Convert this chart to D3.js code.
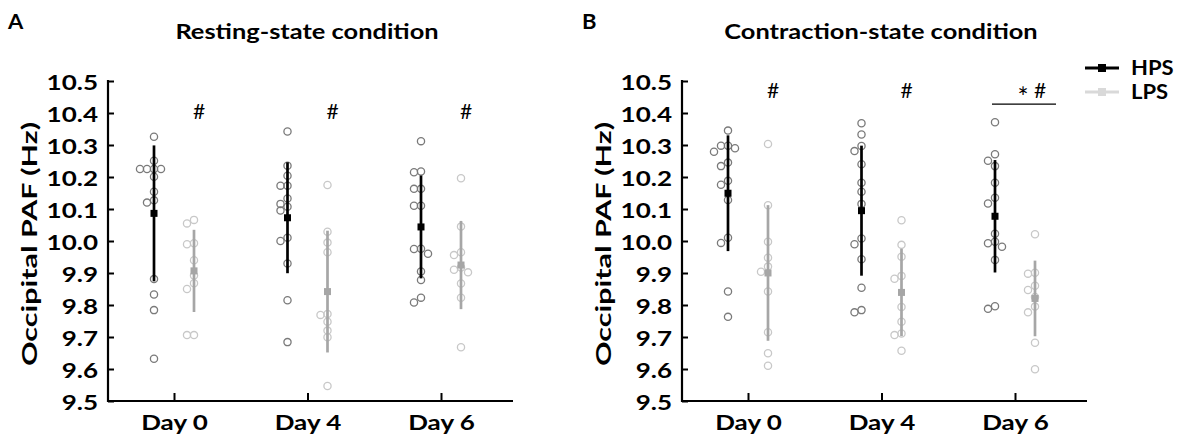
<!DOCTYPE html>
<html>
<head>
<meta charset="utf-8">
<script src="https://cdn.jsdelivr.net/npm/d3@7"></script>
<style>
  body { margin: 0; background: #fff; }
  text { font-family: Lato, "Open Sans", sans-serif; }
</style>
</head>
<body>
<svg id="chart" width="1181" height="441"></svg>
<script>
// data {{{ //

const days = ["Day 0", "Day 4", "Day 6"];
const groups = ["HPS", "LPS"];
const yTicks = [9.5, 9.6, 9.7, 9.8, 9.9, 10.0, 10.1, 10.2, 10.3, 10.4, 10.5];

// resting-state, one list of subjects per day
const restHPS = [
  [10.326, 10.251, 10.225, 10.225, 10.225, 10.225, 10.201, 10.154, 10.120, 10.127, 9.881, 9.833, 9.784, 9.632],
  [10.342, 10.235, 10.204, 10.173, 10.173, 10.133, 10.107, 10.116, 10.095, 10.010, 10.000, 9.930, 9.815, 9.684],
  [10.312, 10.215, 10.217, 10.163, 10.163, 10.110, 10.110, 9.975, 9.976, 9.960, 9.905, 9.878, 9.823, 9.808]
];
const restLPS = [
  [10.055, 10.066, 9.990, 9.993, 9.940, 9.892, 9.868, 9.850, 9.706, 9.706],
  [10.175, 10.029, 9.995, 9.965, 9.772, 9.769, 9.748, 9.720, 9.699, 9.547],
  [10.196, 10.045, 9.956, 9.965, 9.910, 9.902, 9.917, 9.867, 9.823, 9.668]
];

// contraction-state
const contHPS = [
  [10.345, 10.298, 10.298, 10.290, 10.279, 10.245, 10.234, 10.188, 10.176, 10.128, 10.010, 9.994, 9.842, 9.763],
  [10.368, 10.333, 10.297, 10.281, 10.240, 10.182, 10.154, 10.116, 10.008, 9.990, 9.943, 9.854, 9.777, 9.784],
  [10.371, 10.271, 10.251, 10.234, 10.182, 10.135, 10.117, 10.023, 9.998, 9.993, 9.982, 9.941, 9.796, 9.788]
];
const contLPS = [
  [10.303, 10.112, 9.998, 9.948, 9.920, 9.904, 9.842, 9.715, 9.649, 9.610],
  [10.065, 9.988, 9.951, 9.891, 9.882, 9.794, 9.748, 9.711, 9.706, 9.657],
  [10.021, 9.898, 9.901, 9.847, 9.860, 9.825, 9.795, 9.777, 9.682, 9.599]
];

// significance marks per day ("*" = HPS vs LPS, "#" = other effect)
const restMarks = [["#"], ["#"], ["#"]];
const contMarks = [["#"], ["#"], ["*", "#"]];

// }}} data //

const svg = d3.select("#chart");
const colors = { HPS: "#000000", LPS: "#a6a6a6" };
const dotColors = { HPS: "#7a7a7a", LPS: "#c8c8c8" };
const legColors = { HPS: "#000000", LPS: "#d9d9d9" };
const K = 1.3; // the original lettering is set wide

// simple dodge so dots with near values don't sit on top of each other
function dodge(values, cx, y) {
  let placed = [];
  let sorted = values.slice().sort((a, b) => b - a);
  return sorted.map(v => {
    let py = y(v);
    let offsets = [0];
    for (let k = 1; k < 8; k++) offsets.push(-k * 7, k * 7);
    let px = cx;
    for (let o of offsets) {
      let ok = placed.every(p => Math.hypot(p[0] - (cx + o), p[1] - py) >= 6.5);
      if (ok) { px = cx + o; break; }
    }
    placed.push([px, py]);
    return [px, py];
  });
}

// wide text helper
function wideText(parent, x, y, str, size, k, rot) {
  return parent.append("text")
    .attr("transform", "translate(" + x + "," + y + ")" + (rot ? " rotate(" + rot + ")" : "") + " scale(" + k + ",1)")
    .style("font-size", size + "px").style("font-weight", "bold")
    .text(str);
}

function panel(ox, letter, title, hps, lps, marks, markVal, showLegend) {
  let g = svg.append("g").attr("transform", "translate(" + ox + ",0)");
  let top = 81, bottom = 401, axisLen = 405;

  let y = d3.scaleLinear().domain([9.5, 10.5]).range([bottom, top]);
  let x = d3.scalePoint().domain(days).range([66, 333]);
  let off = { HPS: -20, LPS: 20 };

  // axes {{{ //

  g.append("g")
    .call(d3.axisRight(y).tickValues(yTicks).tickFormat(d3.format(".1f")).tickSize(6).tickSizeOuter(0))
    .call(a => a.select(".domain").remove())
    .call(a => a.selectAll(".tick line").attr("stroke", "#000").attr("stroke-width", 2))
    .call(a => a.selectAll(".tick text")
      .attr("x", -10 / K).attr("dy", "0.42em").attr("text-anchor", "end")
      .attr("transform", "scale(" + K + ",1)")
      .style("font-size", "20px").style("font-weight", "bold").attr("fill", "#000"));

  g.append("g")
    .attr("transform", "translate(0," + bottom + ")")
    .call(d3.axisTop(x).tickSize(8).tickSizeOuter(0))
    .call(a => a.select(".domain").remove())
    .call(a => a.selectAll(".tick line").attr("stroke", "#000").attr("stroke-width", 2))
    .call(a => a.selectAll(".tick text")
      .attr("y", 29).attr("dy", 0)
      .attr("transform", "scale(" + K + ",1)")
      .style("font-size", "20px").style("font-weight", "bold").attr("fill", "#000"));

  g.append("path")
    .attr("d", "M0," + (top - 1) + "V" + bottom + "H" + axisLen)
    .attr("fill", "none").attr("stroke", "#000").attr("stroke-width", 2.2);

  wideText(g, -78, (top + bottom) / 2 + 3, "Occipital PAF (Hz)", 21, 1.45, -90)
    .attr("text-anchor", "middle").attr("dy", "0.35em");

  // }}} axes //

  // title {{{ //

  wideText(svg, ox + 199, 39, title, 20, 1.27).attr("text-anchor", "middle");
  wideText(svg, ox - 100, 29, letter, 20, 1.1);

  // }}} title //

  // dots + mean/sd {{{ //

  let sets = { HPS: hps, LPS: lps };
  groups.forEach(grp => {
    days.forEach((day, i) => {
      let vals = sets[grp][i];
      let cx = x(day) + off[grp];
      g.append("g").selectAll("circle")
        .data(dodge(vals, cx, y))
        .enter().append("circle")
        .attr("cx", d => d[0]).attr("cy", d => d[1]).attr("r", 3.6)
        .attr("fill", "none").attr("stroke", dotColors[grp]).attr("stroke-width", 1.3);

      let m = d3.mean(vals), sd = d3.deviation(vals);
      g.append("line")
        .attr("x1", cx).attr("x2", cx)
        .attr("y1", y(m - sd)).attr("y2", y(m + sd))
        .attr("stroke", colors[grp]).attr("stroke-width", 2.7);
      g.append("rect")
        .attr("x", cx - 3.5).attr("y", y(m) - 3.5)
        .attr("width", 7).attr("height", 7)
        .attr("fill", colors[grp]);
    });
  });

  // }}} dots + mean/sd //

  // significance {{{ //

  days.forEach((day, i) => {
    let cx = x(day) + off.LPS + 5;
    marks[i].forEach((mk, j) => {
      let n = marks[i].length;
      let t = g.append("text")
        .attr("x", cx + (j - (n - 1)) * 17).attr("y", y(markVal))
        .attr("text-anchor", "middle")
        .style("font-size", "21px")
        .text(mk);
      if (mk === "*") t.attr("dy", "0.62em").style("font-size", "26px");
      else t.attr("dy", "0.35em");
    });
    if (marks[i].indexOf("*") >= 0) {
      g.append("line")
        .attr("x1", x(day) - 23).attr("x2", x(day) + 41)
        .attr("y1", y(10.428)).attr("y2", y(10.428))
        .attr("stroke", "#000").attr("stroke-width", 1.2);
    }
  });

  // }}} significance //

  // legend {{{ //

  if (showLegend) {
    let lg = svg.append("g").attr("transform", "translate(1085,68)");
    groups.forEach((grp, i) => {
      let row = lg.append("g").attr("transform", "translate(0," + (i * 24) + ")");
      row.append("line").attr("x1", 0).attr("x2", 34)
        .attr("stroke", legColors[grp]).attr("stroke-width", 3);
      row.append("rect").attr("x", 13).attr("y", -4).attr("width", 8).attr("height", 8)
        .attr("fill", legColors[grp]);
      wideText(row, 46, 0, grp, 20, 1.1).attr("dy", "0.36em");
    });
  }

  // }}} legend //
}

panel(108, "A", "Resting-state condition", restHPS, restLPS, restMarks, 10.403, false);
panel(682, "B", "Contraction-state condition", contHPS, contLPS, contMarks, 10.47, true);
</script>
</body>
</html>
